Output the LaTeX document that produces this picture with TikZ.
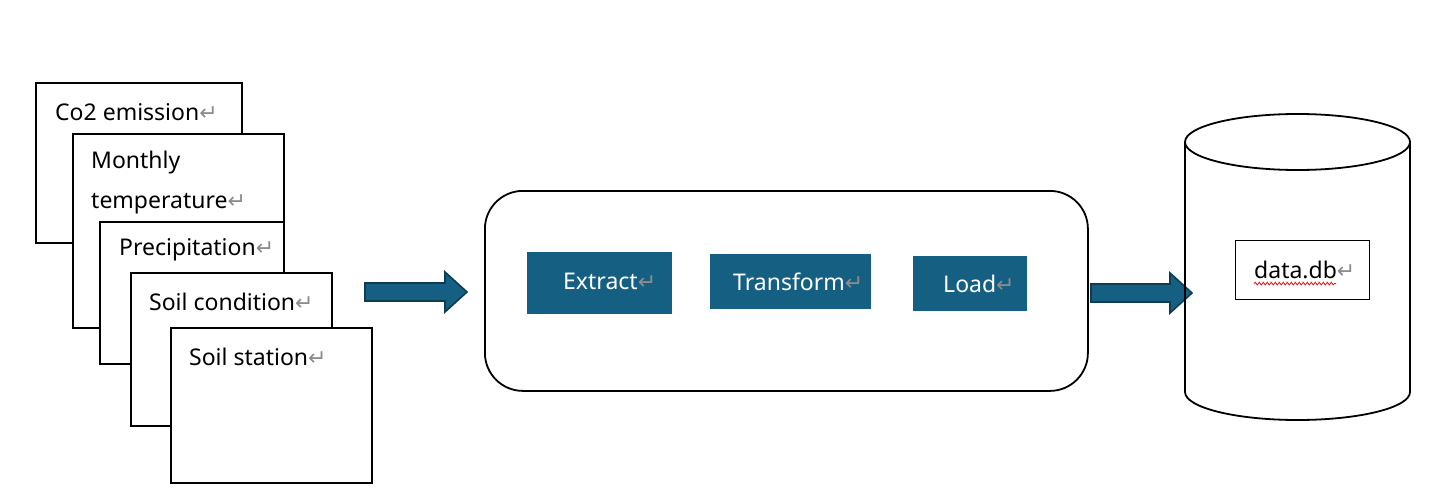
\documentclass[tikz,border=0pt]{standalone}
\usepackage{fontspec}
\setmainfont{Noto Sans}
\newfontfamily\symfont{DejaVu Sans}
\usetikzlibrary{calc,decorations.pathmorphing}
\definecolor{etlblue}{HTML}{156082}
\definecolor{etledge}{HTML}{0E3D53}
\definecolor{markgray}{HTML}{8C8C8C}
\newcommand\parmark{{\symfont\fontsize{22}{22}\selectfont\textcolor{markgray}{↵}}}
\newcommand\blockarrow[2]{\draw[blockarr] ($(#1)+(0,-9)$) -- ($(#2)+(-22,-9)$) -- ($(#2)+(-22,-20)$) -- (#2) -- ($(#2)+(-22,20)$) -- ($(#2)+(-22,9)$) -- ($(#1)+(0,9)$) -- cycle;}
\begin{document}
\begin{tikzpicture}[x=1pt,y=-1pt,
  sheet/.style={draw=black, line width=1.8pt, fill=white, anchor=north west, inner sep=0pt},
  lab/.style={anchor=west, inner sep=0pt, font=\fontsize{23}{40}\selectfont},
  etlbox/.style={fill=etlblue, anchor=north west, inner sep=0pt},
  etltext/.style={anchor=west, inner sep=0pt, text=white, font=\fontsize{23}{28}\selectfont},
  blockarr/.style={fill=etlblue, draw=etledge, line width=1.6pt, line join=miter}]
\useasboundingbox (0,0) rectangle (1442,503);
% stacked source sheets
\node[sheet, minimum width=206, minimum height=160] (co2) at (35,82) {};
\node[lab] (co2t) at (55,112) {Co2 emission\parmark};
\node[sheet, minimum width=211, minimum height=194] (mon) at (72,133) {};
\node[lab, align=left] (mont) at (91,183) {Monthly\\temperature\parmark};
\node[sheet, minimum width=184, minimum height=142] (pre) at (99,221) {};
\node[lab] (pret) at (119,250) {Precipitation\parmark};
\node[sheet, minimum width=201, minimum height=153] (soc) at (130,272) {};
\node[lab] (soct) at (149,302) {Soil condition\parmark};
\node[sheet, minimum width=201, minimum height=155] (sst) at (170,327) {};
\node[lab] (sstt) at (189,357) {Soil station\parmark};
% arrow 1
\coordinate (a1s) at (365,292);
\coordinate (a1e) at (467,292);
\blockarrow{a1s}{a1e}
% ETL container
\node[draw=black, line width=1.8pt, rounded corners=38pt, minimum width=603, minimum height=200, anchor=north west] (etl) at (484,190) {};
\node[etlbox, minimum width=145, minimum height=62] (ext) at (527,252) {};
\node[etltext] (extt) at (563,281) {Extract\parmark};
\node[etlbox, minimum width=161, minimum height=55] (tra) at (710,254) {};
\node[etltext] (trat) at (733,282) {Transform\parmark};
\node[etlbox, minimum width=114, minimum height=55] (loa) at (913,256) {};
\node[etltext] (loat) at (943,284) {Load\parmark};
% arrow 2
\coordinate (a2s) at (1091,293);
\coordinate (a2e) at (1192,293);
\blockarrow{a2s}{a2e}
% database cylinder
\coordinate (dbtop) at (1297.5,142);
\coordinate (dbbot) at (1297.5,392);
\draw[line width=1.8pt] ($(dbtop)+(-112.5,0)$) -- ($(dbbot)+(-112.5,0)$)
  arc[start angle=180, end angle=0, x radius=112.5, y radius=28] -- ($(dbtop)+(112.5,0)$);
\draw[line width=1.8pt] (dbtop) ellipse [x radius=112.5, y radius=28];
\node[draw=black, line width=1.2pt, minimum width=134, minimum height=59, anchor=north west, inner sep=0pt] (dbbox) at (1235,240) {};
\node[lab] (dbt) at (1254,270) {data.db\parmark};
\draw[red, line width=0.8pt, decorate, decoration={snake, amplitude=1.3pt, segment length=4pt}]
  ($(dbt.base west)+(0,5)$) -- ++(82,0);
\end{tikzpicture}
\end{document}
